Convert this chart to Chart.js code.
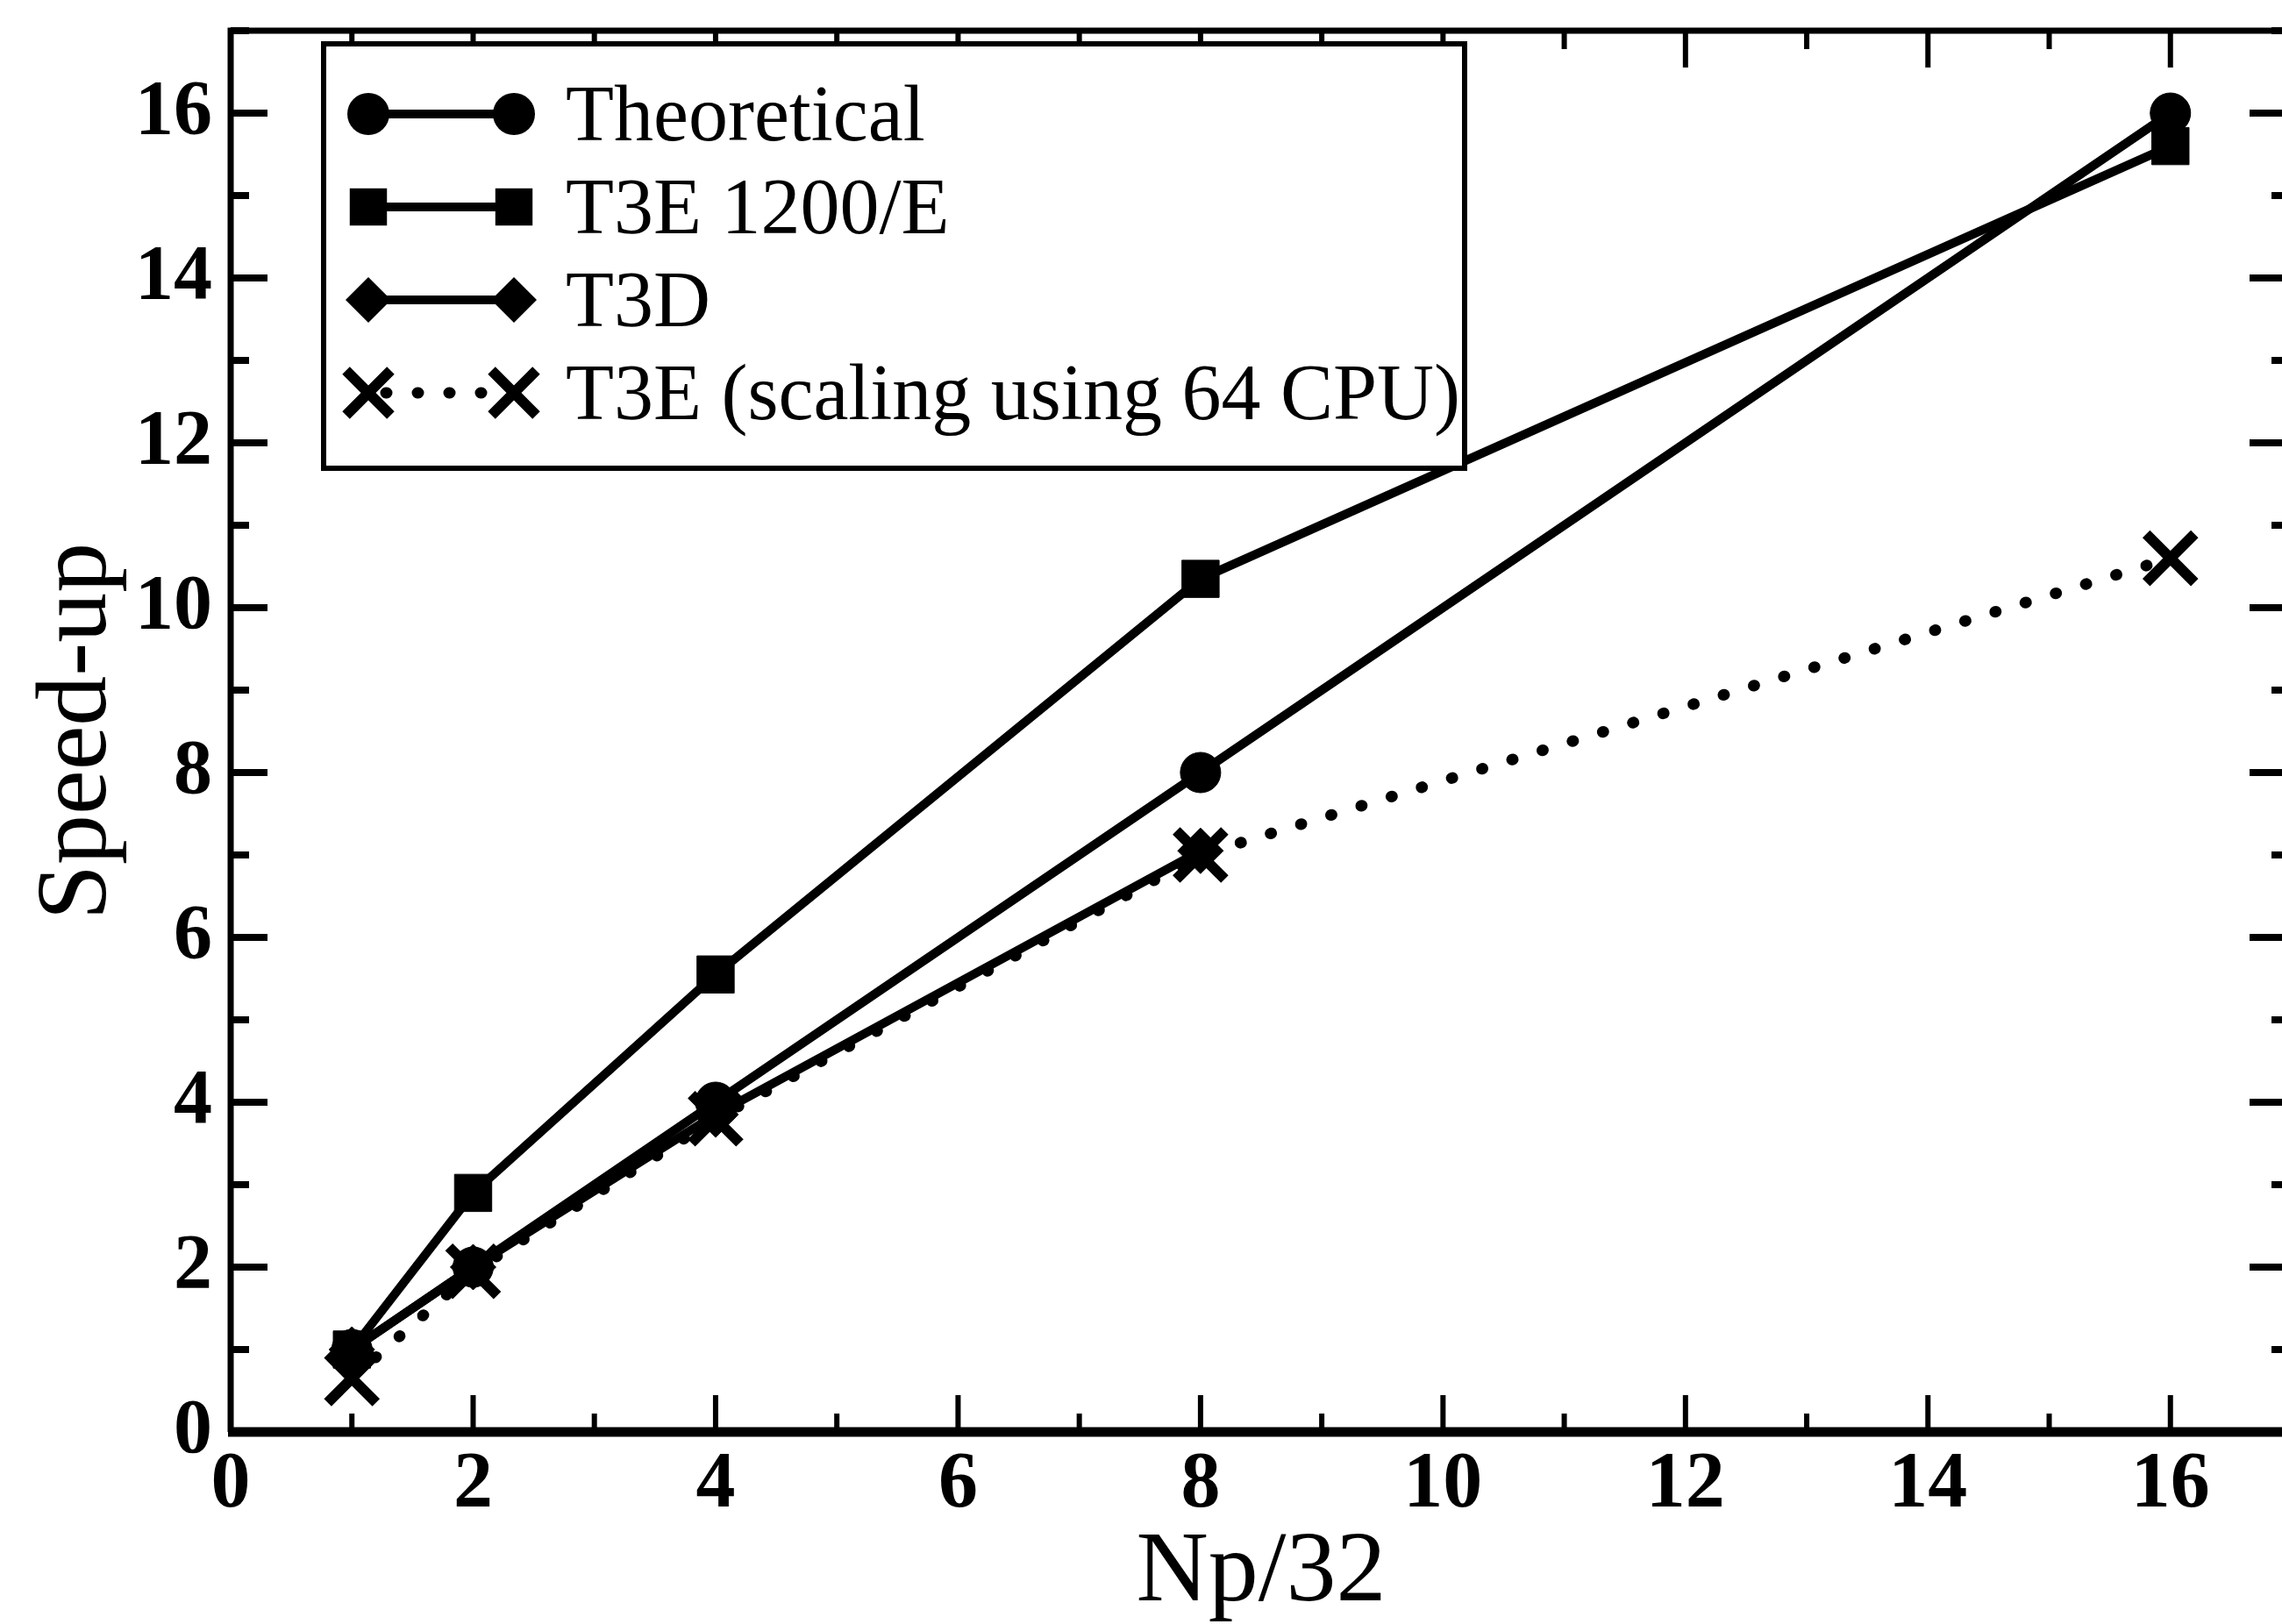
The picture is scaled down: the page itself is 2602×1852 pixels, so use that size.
<!DOCTYPE html>
<html>
<head>
<meta charset="utf-8">
<script src="https://cdn.jsdelivr.net/npm/chart.js@4.4.1/dist/chart.umd.min.js"></script>
<style>
  html, body { margin: 0; padding: 0; background: #fff; overflow: hidden; }
  #wrap { width: 2616px; height: 1852px; }
</style>
</head>
<body>
<div id="wrap"><canvas id="chart"></canvas></div>
<script>
// values
const npValues = [1, 2, 4, 8, 16];
const theoretical = [1, 2, 4, 8, 16];
const t3e1200 = [1.0, 2.9, 5.55, 10.35, 15.6];
const t3dNp = [1, 2, 4, 8];
const t3d = [1.0, 2.0, 3.85, 7.05];
const t3eScaling = [0.65, 1.95, 3.8, 7.0, 10.6];
const seriesNames = ['Theoretical', 'T3E 1200/E', 'T3D', 'T3E (scaling using 64 CPU)'];
const xTicks = [0, 2, 4, 6, 8, 10, 12, 14, 16];
const yTicks = [0, 2, 4, 6, 8, 10, 12, 14, 16];

const serif = "'Liberation Serif', 'DejaVu Serif', serif";

const toPoints = (xs, ys) => xs.map((v, i) => ({ x: v, y: ys[i] }));

// chart.js reserves room for the end labels, the frame here does not
const noEdgePadding = s => {
    s.paddingLeft = 0;
    s.paddingRight = 0;
    s.paddingTop = 0;
    s.paddingBottom = 0;
};

function drawMarker(ctx, style, x, y, r, lw) {
    ctx.beginPath();
    if (style === 'circle') {
        ctx.arc(x, y, r, 0, Math.PI * 2);
        ctx.fill();
    } else if (style === 'rect') {
        const s = r * Math.SQRT1_2;
        ctx.fillRect(x - s, y - s, 2 * s, 2 * s);
    } else if (style === 'rectRot') {
        ctx.moveTo(x, y - r);
        ctx.lineTo(x + r, y);
        ctx.lineTo(x, y + r);
        ctx.lineTo(x - r, y);
        ctx.closePath();
        ctx.fill();
    } else if (style === 'crossRot') {
        const s = r * Math.SQRT1_2;
        ctx.lineWidth = lw;
        ctx.setLineDash([]);
        ctx.moveTo(x - s, y - s);
        ctx.lineTo(x + s, y + s);
        ctx.moveTo(x + s, y - s);
        ctx.lineTo(x - s, y + s);
        ctx.stroke();
    }
}

const frame = {
    id: 'frame',
    afterDatasetsDraw(chart) {
        const { ctx, chartArea: a, scales: { x, y } } = chart;
        ctx.save();
        ctx.strokeStyle = '#000';
        ctx.fillStyle = '#000';
        ctx.lineCap = 'butt';

        // minor + major ticks on all four sides, pointing inward
        for (let v = 0; v <= 17; v++) {
            const major = v % 2 === 0;
            const px = x.getPixelForValue(v);
            const py = y.getPixelForValue(v);
            const len = major ? 42 : 21;
            ctx.lineWidth = 6;
            ctx.beginPath();
            ctx.moveTo(px, a.bottom);
            ctx.lineTo(px, a.bottom - len);
            ctx.moveTo(px, a.top);
            ctx.lineTo(px, a.top + len);
            ctx.stroke();
            ctx.lineWidth = 8;
            ctx.beginPath();
            ctx.moveTo(a.left, py);
            ctx.lineTo(a.left + len, py);
            ctx.moveTo(a.right, py);
            ctx.lineTo(a.right - (major ? 48 : 23), py);
            ctx.stroke();
        }

        // axes box
        ctx.lineWidth = 7;
        ctx.beginPath();
        ctx.moveTo(a.left, a.bottom);
        ctx.lineTo(a.left, a.top);
        ctx.lineTo(a.right, a.top);
        ctx.lineTo(a.right, a.bottom);
        ctx.stroke();
        ctx.lineWidth = 11;
        ctx.beginPath();
        ctx.moveTo(a.left - 3, a.bottom);
        ctx.lineTo(a.right, a.bottom);
        ctx.stroke();

        // legend box
        const bx = 369, by = 50, bw = 1301, bh = 484;
        ctx.fillStyle = '#fff';
        ctx.fillRect(bx, by, bw, bh);
        ctx.lineWidth = 6;
        ctx.strokeRect(bx, by, bw, bh);
        ctx.fillStyle = '#000';

        chart.data.datasets.forEach((ds, i) => {
            const rowY = 130 + i * 106;
            const x1 = 420, x2 = 586;
            ctx.lineWidth = ds.borderWidth;
            ctx.lineCap = ds.borderCapStyle || 'butt';
            ctx.setLineDash(ds.borderDash || []);
            ctx.beginPath();
            ctx.moveTo(x1 + 20, rowY);
            ctx.lineTo(x2 - 20, rowY);
            ctx.stroke();
            ctx.lineCap = 'butt';
            ctx.setLineDash([]);
            const r = ds.legendRadius;
            drawMarker(ctx, ds.pointStyle, x1, rowY, r, ds.pointBorderWidth);
            drawMarker(ctx, ds.pointStyle, x2, rowY, r, ds.pointBorderWidth);
            ctx.font = '90px ' + serif;
            ctx.textAlign = 'left';
            ctx.textBaseline = 'alphabetic';
            ctx.fillText(ds.label, 645, rowY + 30);
        });
        ctx.restore();
    }
};

new Chart(document.getElementById('chart'), {
    type: 'line',
    data: {
        datasets: [{
            label: seriesNames[0],
            data: toPoints(npValues, theoretical),
            borderColor: '#000',
            backgroundColor: '#000',
            borderWidth: 10,
            pointStyle: 'circle',
            pointRadius: 23,
            pointBorderWidth: 1,
            legendRadius: 24,
        }, {
            label: seriesNames[1],
            data: toPoints(npValues, t3e1200),
            borderColor: '#000',
            backgroundColor: '#000',
            borderWidth: 10,
            pointStyle: 'rect',
            pointRadius: 30,
            pointBorderWidth: 1,
            legendRadius: 30,
        }, {
            label: seriesNames[2],
            data: toPoints(t3dNp, t3d),
            borderColor: '#000',
            backgroundColor: '#000',
            borderWidth: 10,
            pointStyle: 'rectRot',
            pointRadius: 26,
            pointBorderWidth: 1,
            legendRadius: 26,
        }, {
            label: seriesNames[3],
            data: toPoints(npValues, t3eScaling),
            borderColor: '#000',
            backgroundColor: '#000',
            borderWidth: 13,
            borderDash: [1, 35],
            borderCapStyle: 'round',
            pointStyle: 'crossRot',
            pointRadius: 39,
            pointBorderWidth: 12,
            legendRadius: 36,
        }]
    },
    options: {
        responsive: true,
        maintainAspectRatio: false,
        animation: false,
        layout: {
            autoPadding: false,
            padding: { left: 0, top: 35, right: 3, bottom: 0 }
        },
        scales: {
            x: {
                type: 'linear',
                min: 0,
                max: 17,
                afterBuildTicks: s => { s.ticks = xTicks.map(v => ({ value: v })); },
                afterFit: s => { s.height = 219; noEdgePadding(s); },
                grid: { display: false, drawTicks: false },
                border: { display: false },
                ticks: {
                    color: '#000',
                    padding: 8,
                    maxRotation: 0,
                    font: { family: serif, size: 90, weight: 'bold' }
                },
                title: {
                    display: true,
                    text: 'Np/32',
                    color: '#000',
                    padding: { top: 0, bottom: 0 },
                    font: { family: serif, size: 114, lineHeight: 1.0 }
                }
            },
            y: {
                type: 'linear',
                min: 0,
                max: 17,
                afterBuildTicks: s => { s.ticks = yTicks.map(v => ({ value: v })); },
                afterFit: s => { s.width = 263; noEdgePadding(s); },
                grid: { display: false, drawTicks: false },
                border: { display: false },
                ticks: {
                    color: '#000',
                    padding: 21,
                    font: { family: serif, size: 88, weight: 'bold' }
                },
                title: {
                    display: true,
                    text: 'Speed-up',
                    color: '#000',
                    padding: { top: 22, bottom: 0 },
                    font: { family: serif, size: 114 }
                }
            }
        },
        plugins: {
            legend: { display: false },
            tooltip: { enabled: false },
            title: { display: false }
        }
    },
    plugins: [frame]
});
</script>
</body>
</html>
